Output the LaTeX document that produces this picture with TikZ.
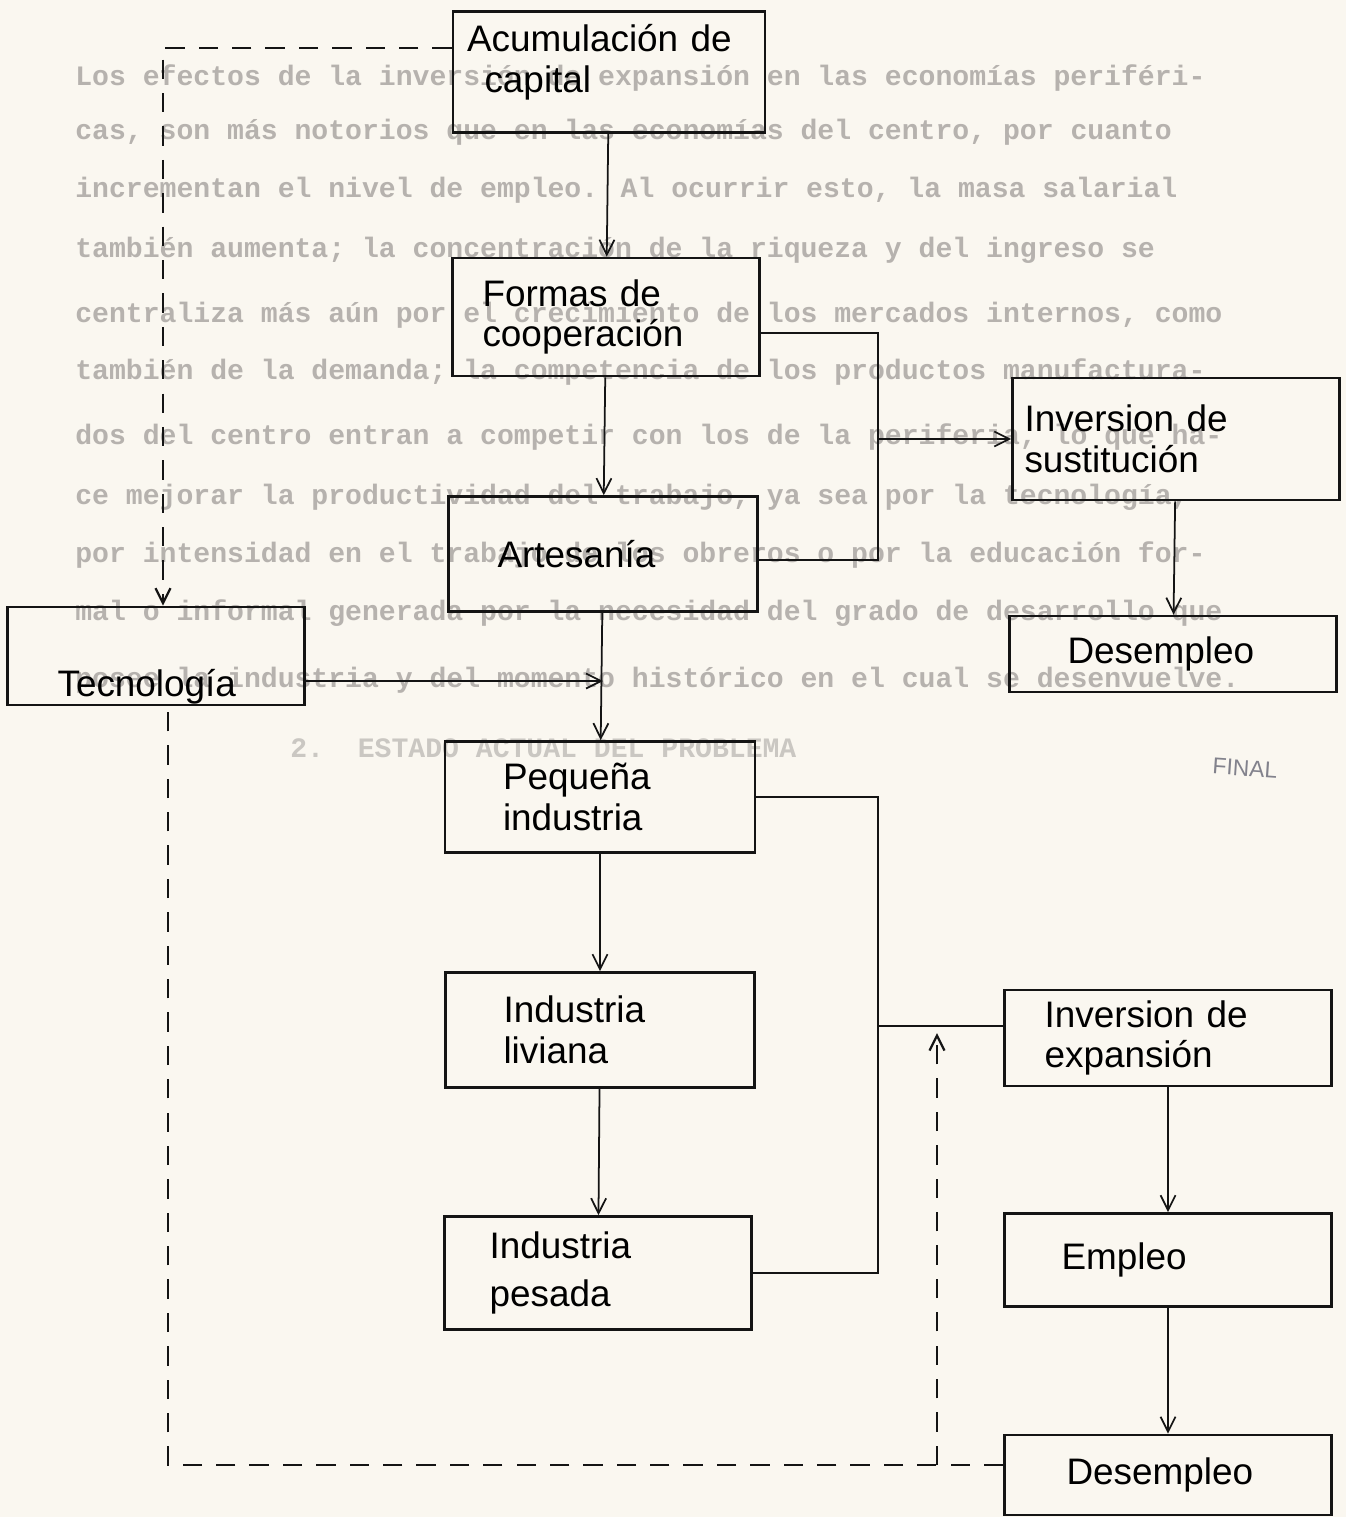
\documentclass[tikz,border=0pt]{standalone}
\usepackage{fontspec}
\setmainfont{Liberation Sans}
\newfontfamily\maquina{Liberation Mono}
\usetikzlibrary{arrows.meta}
\definecolor{papel}{RGB}{250,247,240}
\definecolor{tinta}{RGB}{20,20,20}
\definecolor{sombra}{RGB}{182,178,174}
\definecolor{lapiz}{RGB}{130,130,140}
\tikzset{
  caja/.style={draw=tinta, line width=1.5pt, align=left, inner sep=0pt,
    font=\fontsize{21}{23}\selectfont},
  flecha/.style={draw=tinta, line width=1pt, -{Straight Barb[length=3mm,width=3mm]}},
  linea/.style={draw=tinta, line width=1pt},
  punteada/.style={draw=tinta, line width=1.3pt, dash pattern=on 11pt off 8pt},
  fondo/.style={anchor=west, inner sep=0pt, text=sombra,
    font=\maquina\bfseries\fontsize{16}{18}\selectfont}
}
\begin{document}
\begin{tikzpicture}[x=0.02cm, y=-0.02cm]
  \fill[papel] (0,0) rectangle (1346,1517);
  \useasboundingbox (0,0) rectangle (1346,1517);
  % texto mecanografiado que se ve debajo
  \foreach \yy/\txt [count=\i] in {
    78/{Los efectos de la inversión de expansión en las economías periféri-},
    132/{cas, son más notorios que en las economías del centro, por cuanto},
    190/{incrementan el nivel de empleo. Al ocurrir esto, la masa salarial},
    250/{también aumenta; la concentración de la riqueza y del ingreso se},
    315/{centraliza más aún por el crecimiento de los mercados internos, como},
    372/{también de la demanda; la competencia de los productos manufactura-},
    437/{dos del centro entran a competir con los de la periferia, lo que ha-},
    497/{ce mejorar la productividad del trabajo, ya sea por la tecnología,},
    555/{por intensidad en el trabajo de los obreros o por la educación for-},
    613/{mal o informal generada por la necesidad del grado de desarrollo que},
    680/{posee la industria y del momento histórico en el cual se desenvuelve.}}
    \node[fondo] (renglon\i) at (75,\yy) {\txt};
  \node[fondo, text=sombra!70!papel] (titulo) at (290,748) {2.\ \ ESTADO ACTUAL DEL PROBLEMA};
  \node[text=lapiz, font=\fontsize{13}{15}\selectfont, rotate=-4] (final) at (1245,768) {FINAL};

  % cajas
  \node[caja, minimum width=6.24cm, minimum height=2.42cm, text width=5.68cm, inner xsep=0.28cm, text depth=1.35cm] (acum) at (609,72) {Acumulación de\\\hspace*{0.35cm}capital};
  \node[caja, minimum width=6.14cm, minimum height=2.36cm, text width=4.94cm, inner xsep=0.6cm] (formas) at (606,317) {Formas de\\cooperación};
  \node[caja, minimum width=6.18cm, minimum height=2.3cm, text width=4.22cm, inner xsep=0.98cm] (artes) at (603,554) {Artesanía};
  \node[caja, minimum width=6.54cm, minimum height=2.44cm, text width=6.06cm, inner xsep=0.24cm] (invsust) at (1176,439) {Inversion de\\sustitución};
  \node[caja, minimum width=6.54cm, minimum height=1.52cm, text width=4.22cm, inner xsep=1.16cm] (desempA) at (1173,654) {Desempleo};
  \node[caja, minimum width=5.94cm, minimum height=1.96cm, text width=3.94cm, inner xsep=1cm, text height=1.6cm, text depth=0pt] (tecno) at (156,656) {Tecnología};
  \node[caja, minimum width=6.2cm, minimum height=2.22cm, text width=3.88cm, inner xsep=1.16cm] (peq) at (600,797) {Pequeña\\industria};
  \node[caja, minimum width=6.18cm, minimum height=2.3cm, text width=3.86cm, inner xsep=1.16cm] (livi) at (600,1030) {Industria\\liviana};
  \node[caja, minimum width=6.54cm, minimum height=1.92cm, text width=4.94cm, inner xsep=0.8cm] (invexp) at (1168,1038) {Inversion de\\expansión};
  \node[caja, minimum width=6.14cm, minimum height=2.26cm, text width=4.34cm, inner xsep=0.9cm, font=\fontsize{21}{27}\selectfont] (pesada) at (598,1273) {Industria\\pesada};
  \node[caja, minimum width=6.54cm, minimum height=1.86cm, text width=4.26cm, inner xsep=1.14cm] (empleo) at (1168,1260) {Empleo};
  \node[caja, minimum width=6.54cm, minimum height=1.6cm, text width=4.06cm, inner xsep=1.24cm] (desempB) at (1168,1475) {Desempleo};

  % puntos de quiebre
  \coordinate (ramaA) at (878,333);
  \coordinate (ramaB) at (878,560);
  \coordinate (ramaC) at (878,797);
  \coordinate (ramaD) at (878,1273);
  \coordinate (ramaE) at (878,1026);
  \coordinate (cruce) at (603,681);
  \coordinate (esqA) at (163,48);
  \coordinate (esqB) at (168,1465);
  \coordinate (esqC) at (937,1465);

  % columna central
  \draw[flecha] (acum) -- (formas);
  \draw[flecha] (formas) -- (artes);
  \draw[flecha] (artes) -- (peq);
  \draw[flecha] (peq) -- (livi);
  \draw[flecha] (livi) -- (pesada);
  \draw[flecha] (tecno.east |- cruce) -- (cruce);
  \draw[linea] (formas.east |- ramaA) -- (ramaA) -- (ramaB) -- (artes.east |- ramaB);
  \draw[flecha] (ramaA |- invsust) -- (invsust.west);
  \draw[linea] (peq.east) -- (ramaC) -- (ramaD) -- (pesada.east);
  \draw[linea] (ramaE) -- (ramaE -| invexp.west);

  % columna derecha
  \draw[flecha] (invsust) -- (desempA);
  \draw[flecha] (invexp) -- (empleo);
  \draw[flecha] (empleo) -- (desempB);

  % retorno punteado
  \draw[punteada, -{Straight Barb[length=3mm,width=3mm]}] (acum.west |- esqA) -- (esqA) -- (esqA |- tecno.north);
  \draw[punteada] (desempB.west |- esqB) -- (esqB) -- (esqB |- tecno.south);
  \draw[punteada, -{Straight Barb[length=3mm,width=3mm]}] (esqC) -- ([yshift=-4pt]esqC |- ramaE);
\end{tikzpicture}
\end{document}
